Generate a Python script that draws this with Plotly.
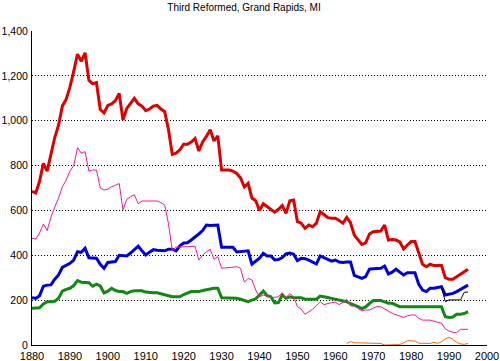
import plotly.graph_objects as go

years = list(range(1880, 1996))

red = [685, 678, 730, 810, 775, 845, 925, 980, 1065, 1095,
       1150, 1220, 1297, 1265, 1303, 1180, 1165, 1170, 1050, 1035,
       1068, 1075, 1090, 1122, 1003, 1055, 1075, 1100, 1075, 1065,
       1045, 1052, 1065, 1068, 1052, 1040, 960, 850, 855, 870,
       895, 895, 905, 921, 865, 905, 930, 960, 910, 932,
       780, 780, 780, 775, 765, 745, 705, 721, 655, 643,
       600, 630, 617, 605, 592, 605, 622, 587, 643, 646,
       550, 543, 520, 535, 527, 543, 594, 582, 568, 565,
       565, 555, 543, 569, 545, 490, 468, 448, 455, 495,
       505, 505, 508, 535, 468, 470, 468, 460, 428, 446,
       461, 461, 410, 360, 349, 360, 354, 354, 354, 300,
       293, 293, 305, 315, 325, 338]

blue = [211, 208, 220, 262, 267, 268, 293, 312, 346, 355,
        364, 379, 416, 413, 431, 389, 388, 387, 360, 342,
        368, 370, 372, 400, 397, 397, 410, 424, 441, 420,
        401, 414, 425, 422, 420, 420, 427, 427, 420, 442,
        455, 456, 468, 480, 495, 510, 535, 533, 535, 535,
        436, 436, 436, 436, 415, 416, 418, 420, 360, 372,
        387, 409, 397, 397, 379, 381, 390, 406, 410, 405,
        376, 387, 385, 378, 370, 361, 397, 391, 382, 374,
        379, 370, 368, 370, 370, 310, 303, 297, 305, 338,
        340, 342, 342, 352, 317, 325, 338, 325, 312, 322,
        322, 322, 270, 245, 238, 253, 253, 257, 260, 223,
        227, 230, 238, 248, 258, 267]

green = [164, 164, 166, 183, 193, 193, 195, 208, 240, 248,
         253, 265, 287, 280, 278, 278, 262, 271, 263, 232,
         240, 253, 243, 238, 238, 230, 238, 242, 242, 242,
         236, 233, 233, 233, 228, 223, 218, 215, 215, 215,
         225, 232, 238, 238, 238, 243, 245, 250, 253, 253,
         211, 211, 211, 211, 208, 204, 198, 193, 200, 206,
         223, 241, 220, 215, 188, 189, 223, 208, 215, 211,
         211, 211, 204, 204, 204, 204, 218, 216, 212, 208,
         205, 201, 197, 193, 184, 178, 171, 162, 170, 185,
         198, 198, 198, 192, 186, 186, 180, 171, 171, 171,
         171, 173, 174, 174, 174, 174, 171, 171, 171, 126,
         123, 125, 137, 137, 140, 149]

magenta = [476, 472, 500, 540, 510, 570, 615, 655, 705, 735,
           775, 800, 880, 855, 862, 775, 780, 780, 700, 691,
           695, 706, 712, 720, 602, 650, 661, 670, 630, 642,
           642, 642, 642, 642, 635, 624, 540, 420, 436, 437,
           438, 438, 438, 440, 379, 401, 415, 427, 382, 394,
           342, 344, 346, 348, 349, 342, 280, 297, 290, 245,
           215, 223, 216, 211, 213, 215, 233, 211, 230, 215,
           171, 160, 137, 149, 159, 176, 193, 180, 186, 189,
           191, 180, 190, 204, 174, 174, 163, 152, 156, 156,
           165, 171, 171, 160, 149, 141, 135, 129, 123, 130,
           134, 134, 119, 111, 111, 111, 106, 100, 97, 72,
           62, 57, 55, 70, 70, 70]

black_years = list(range(1988, 1996))
black = [258, 193, 201, 201, 201, 201, 235, 236]

orange_years = list(range(1963, 1996))
orange = [7, 15, 10, 10, 10, 7, 7, 7, 7, 7,
          0, 0, 0, 0, 2, 10, 19, 18, 18, 8,
          7, 7, 7, 12, 7, 15, 28, 34, 25, 12,
          5, 3, 7]

x_ticks = list(range(1880, 2001, 10))
y_ticks = list(range(0, 1401, 200))

FONT = "Liberation Sans, Arial, sans-serif"

fig = go.Figure()
fig.add_trace(go.Scatter(x=years, y=red, mode="lines",
                         line=dict(color="#dd0000", width=3)))
fig.add_trace(go.Scatter(x=years, y=blue, mode="lines",
                         line=dict(color="#0000dd", width=3)))
fig.add_trace(go.Scatter(x=years, y=green, mode="lines",
                         line=dict(color="#118811", width=3)))
fig.add_trace(go.Scatter(x=years, y=magenta, mode="lines",
                         line=dict(color="#ff1499", width=1)))
fig.add_trace(go.Scatter(x=black_years, y=black, mode="lines",
                         line=dict(color="#000000", width=1)))
fig.add_trace(go.Scatter(x=orange_years, y=orange, mode="lines",
                         line=dict(color="#ff6600", width=1)))

fig.update_layout(
    width=500, height=361,
    margin=dict(l=32, r=13, t=31, b=16, autoexpand=False),
    paper_bgcolor="white", plot_bgcolor="white",
    showlegend=False,
    font=dict(family=FONT, size=11, color="black"),
    title=dict(text="Third Reformed, Grand Rapids, MI",
               font=dict(family=FONT, size=10, color="black"),
               x=244 / 500, xanchor="center", xref="container",
               y=1 - 7 / 361, yanchor="middle", yref="container",
               automargin=False),
    xaxis=dict(range=[1880, 2000], tickvals=x_ticks, showgrid=False,
               showline=True, linecolor="black", linewidth=1,
               ticks="", zeroline=False, ticklabelstandoff=1, automargin=False),
    yaxis=dict(range=[0, 1400], tickvals=y_ticks, tickformat=",",
               tickfont=dict(family=FONT, size=10.5, color="black"),
               showgrid=True, gridcolor="black", gridwidth=1, griddash="1px,2px",
               showline=True, linecolor="black", linewidth=1,
               ticks="", zeroline=False, ticklabelstandoff=1, automargin=False),
)

fig.write_html(
    "out.html",
    config={"displayModeBar": False},
    post_script="document.body.style.margin='0';document.body.style.padding='0';"
                "document.documentElement.style.overflow='hidden';",
)
